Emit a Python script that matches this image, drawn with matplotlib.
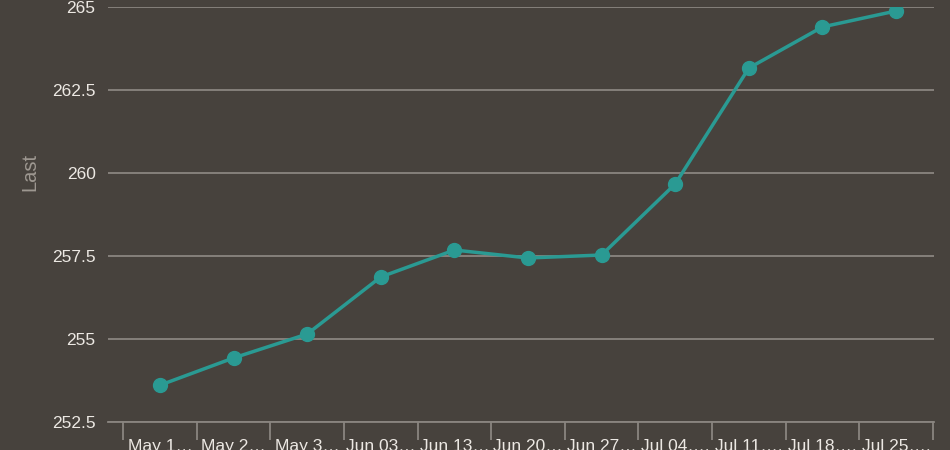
import numpy as np
import matplotlib.pyplot as plt
from matplotlib.ticker import FixedLocator

labels = ["May 1…", "May 2…", "May 3…", "Jun 03…", "Jun 13…", "Jun 20…",
          "Jun 27…", "Jul 04….", "Jul 11….", "Jul 18….", "Jul 25…."]
last = [253.61, 254.43, 255.15, 256.87, 257.68, 257.44, 257.53,
        259.67, 263.16, 264.40, 264.88]
yticks = [252.5, 255, 257.5, 260, 262.5, 265]
ytick_labels = ["252.5", "255", "257.5", "260", "262.5", "265"]

bg = "#47423d"
grid = "#8a8580"
teal = "#2a9a93"
txt = "#ece8e3"

plt.rcParams["font.family"] = ["Liberation Sans", "DejaVu Sans"]

fig = plt.figure(figsize=(9.5, 4.5), dpi=100, facecolor=bg)
ax = fig.add_axes([108/950, 28/450, (934-108)/950, (422-7)/450])
ax.set_facecolor(bg)

x = np.arange(len(last))
ax.plot(x, last, color=teal, lw=2.5, marker="o", ms=10, zorder=3)

ax.set_xlim(-0.707, 10.516)
ax.set_ylim(252.5, 265)

ax.set_yticks(yticks)
ax.set_yticklabels(ytick_labels)
ax.yaxis.grid(True, color=grid, lw=1.3)
ax.set_axisbelow(True)

ax.set_xticks(x)
ax.set_xticklabels(labels)
ax.xaxis.set_minor_locator(FixedLocator(np.arange(len(last) + 1) - 0.5))

for s in ["top", "right", "left"]:
    ax.spines[s].set_visible(False)
ax.spines["bottom"].set_color(grid)
ax.spines["bottom"].set_linewidth(1.3)

ax.tick_params(axis="y", length=0, pad=9, labelsize=12.5, labelcolor=txt)
ax.tick_params(axis="x", which="major", length=0, pad=12, labelsize=12.5, labelcolor=txt)
ax.tick_params(axis="x", which="minor", length=13, width=1.3, color=grid)

ax.set_ylabel("Last", color="#9e9891", fontsize=14.5)
ax.yaxis.set_label_coords(-0.0835, 0.602)

fig.savefig("out.png", dpi=100, facecolor=bg)
